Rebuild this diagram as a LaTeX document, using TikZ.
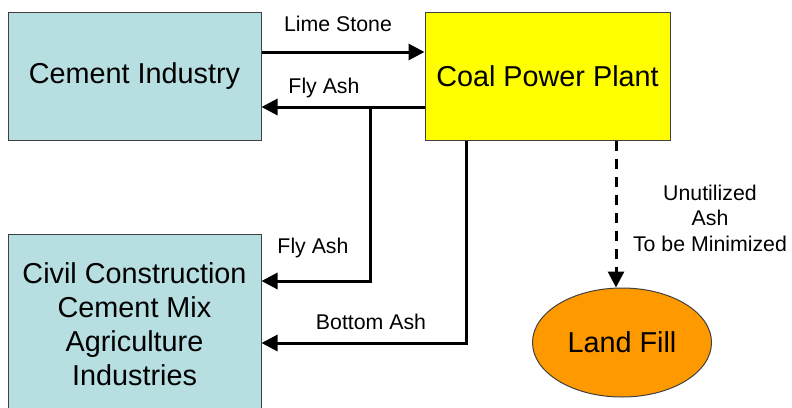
\documentclass[tikz,border=0pt]{standalone}
\usepackage{fontspec}
\setmainfont{Liberation Sans}
\usetikzlibrary{arrows.meta,shapes.geometric}
\definecolor{box-cyan}{HTML}{B7DEE0}
\definecolor{plant-yellow}{HTML}{FFFF00}
\definecolor{fill-orange}{HTML}{FF9900}
\definecolor{edge-gray}{HTML}{404040}

\begin{document}
\begin{tikzpicture}[x=1pt, y=-1pt,
    every node/.style={font=\fontsize{28.8}{34}\selectfont},
    box/.style={draw=edge-gray, line width=1pt, minimum width=253pt, minimum height=128pt, align=center, inner sep=0pt},
    flow/.style={line width=3pt, -{Triangle[length=16pt, width=16pt]}},
    lab/.style={font=\fontsize{21.3}{25.5}\selectfont, align=center}]
      \clip (0, 0) rectangle (792, 407);
      \node[box, fill=box-cyan] (cement) at (134.5, 76) {Cement Industry};
      \node[box, fill=plant-yellow, minimum width=245pt] (coal) at (547.5, 76) {Coal Power Plant};
      \node[box, fill=box-cyan, minimum height=181pt] (civil) at (134.5, 324.5) {Civil Construction\\Cement Mix\\Agriculture\\Industries};
      \node[draw=edge-gray, line width=1pt, ellipse, fill=fill-orange, minimum width=179pt, minimum height=109pt, inner sep=0pt] (landfill) at (622, 342.5) {Land Fill};
      \node[lab] (limelab) at (338, 24) {Lime Stone};
      \node[lab] (flylab) at (324, 88) {Fly Ash};
      \node[lab] (flylab2) at (313, 248) {Fly Ash};
      \node[lab] (bottomlab) at (371, 322) {Bottom Ash};
      \node[lab] (unusedlab) at (710, 218) {Unutilized\\Ash\\To be Minimized};
      \coordinate (split) at (370, 107);
      \draw[flow] ([yshift=24pt]cement.east) -- ([yshift=24pt]coal.west);
      \draw[flow] ([yshift=-31pt]coal.west) -- ([yshift=-31pt]cement.east);
      \draw[flow] (split) |- ([yshift=43.5pt]civil.east);
      \draw[flow] ([xshift=-81.5pt]coal.south) |- ([yshift=-18.5pt]civil.east);
      \draw[flow, dash pattern=on 10pt off 8pt] ([xshift=68.5pt]coal.south) -- ([xshift=68.5pt]coal.south |- landfill.north);
    \end{tikzpicture}
\end{document}
